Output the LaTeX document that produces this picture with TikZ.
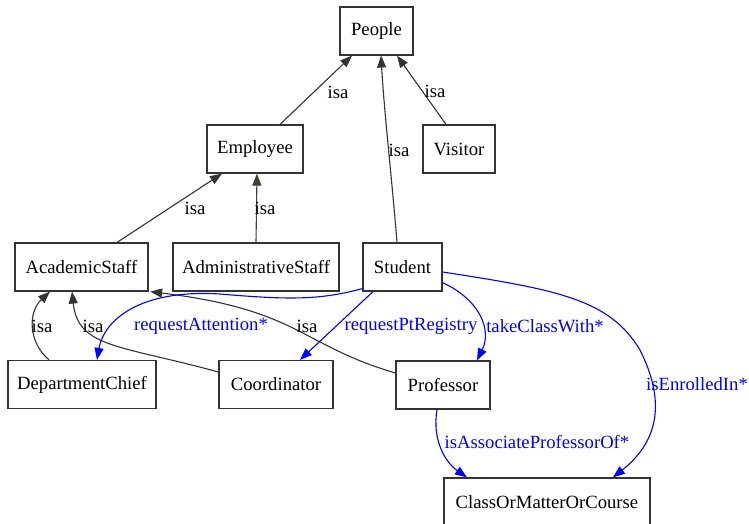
\documentclass[tikz,border=0pt]{standalone}
\usepackage{fontspec}
\setmainfont{Liberation Serif}
\usetikzlibrary{arrows.meta}

\begin{document}
\begin{tikzpicture}[x=1pt,y=-1pt,
  font=\fontsize{18.67}{22}\selectfont,
  cls/.style={draw=black!80, line width=1.2pt, minimum height=48pt,
    inner sep=0pt, fill=white},
  isa/.style={draw=black!80, line width=1.1pt,
    -{Triangle[length=12pt,width=9pt]}},
  rel/.style={draw=blue, line width=1.1pt,
    -{Triangle[length=12pt,width=9pt]}},
  lbl/.style={inner sep=0pt, text=black},
  rlbl/.style={inner sep=0pt, text=blue}]

\useasboundingbox (0,0) rectangle (749,524);

% classes
\node[cls, minimum width=73pt]  (people)   at (376.5,31)  {People};
\node[cls, minimum width=96pt]  (employee) at (255,149)   {Employee};
\node[cls, minimum width=72pt]  (visitor)  at (459,149)   {Visitor};
\node[cls, minimum width=133pt] (acad)     at (81.5,267)  {AcademicStaff};
\node[cls, minimum width=166pt] (admin)    at (256,267)   {AdministrativeStaff};
\node[cls, minimum width=79pt]  (student)  at (402.5,267) {Student};
\node[cls, minimum width=148pt] (chief)    at (82,384.5)  {DepartmentChief};
\node[cls, minimum width=114pt] (coord)    at (276,384.5) {Coordinator};
\node[cls, minimum width=94pt]  (prof)     at (443,385)   {Professor};
\node[cls, minimum width=206pt] (course)   at (547,502)   {ClassOrMatterOrCourse};

% isa hierarchy
\draw[isa] ([xshift=25pt]employee.north) -- ([xshift=-24.5pt]people.south)
  node[lbl, at={(338,92)}] {isa};
\draw[isa] ([xshift=-13pt]visitor.north) -- ([xshift=20.5pt]people.south)
  node[lbl, at={(435,91)}] {isa};
\draw[isa] ([xshift=-5.5pt]student.north) .. controls (392,180) and (384,110) .. ([xshift=4.5pt]people.south)
  node[lbl, at={(399,150)}] {isa};
\draw[isa] ([xshift=35.5pt]acad.north) -- ([xshift=-33pt]employee.south)
  node[lbl, at={(195,208)}] {isa};
\draw[isa, draw=black!70!olive] (admin.north) -- ([xshift=2pt]employee.south)
  node[lbl, at={(265,208)}] {isa};
\draw[isa] ([xshift=-33pt]chief.north) .. controls (28,342) and (28,312) .. ([xshift=-31.5pt]acad.south)
  node[lbl, at={(42,326)}] {isa};
\draw[isa] ([yshift=12.5pt]coord.west) .. controls (120,345) and (78,348) .. ([xshift=-9.5pt]acad.south)
  node[lbl, at={(93,326)}] {isa};
\draw[isa] ([yshift=12pt]prof.west) .. controls (300,345) and (300,310) .. ([xshift=1.5pt]acad.south east)
  node[lbl, at={(307,326)}] {isa};

% relations
\draw[rel] ([yshift=3pt]student.south west) .. controls (320,300) and (290,300) .. (220,294)
  .. controls (140,289) and (104,320) .. ([xshift=15pt]chief.north)
  node[rlbl, at={(201,326)}] {requestAttention*};
\draw[rel] ([xshift=-29.5pt]student.south) -- ([xshift=24pt]coord.north)
  node[rlbl, at={(411,326)}] {requestPtRegistry};
\draw[rel] ([yshift=9pt]student.south east) .. controls (480,300) and (492,330) .. ([xshift=34pt]prof.north)
  node[rlbl, at={(545,326)}] {takeClassWith*};
\draw[rel] ([yshift=-5pt]student.east) .. controls (560,290) and (610,300) .. (640,350)
  .. controls (665,400) and (660,440) .. ([xshift=66pt]course.north)
  node[rlbl, at={(697,384)}] {isEnrolledIn*};
\draw[rel] ([xshift=-6pt]prof.south) .. controls (432,440) and (445,462) .. ([xshift=-80pt]course.north)
  node[rlbl, at={(537,442)}] {isAssociateProfessorOf*};

\end{tikzpicture}
\end{document}
